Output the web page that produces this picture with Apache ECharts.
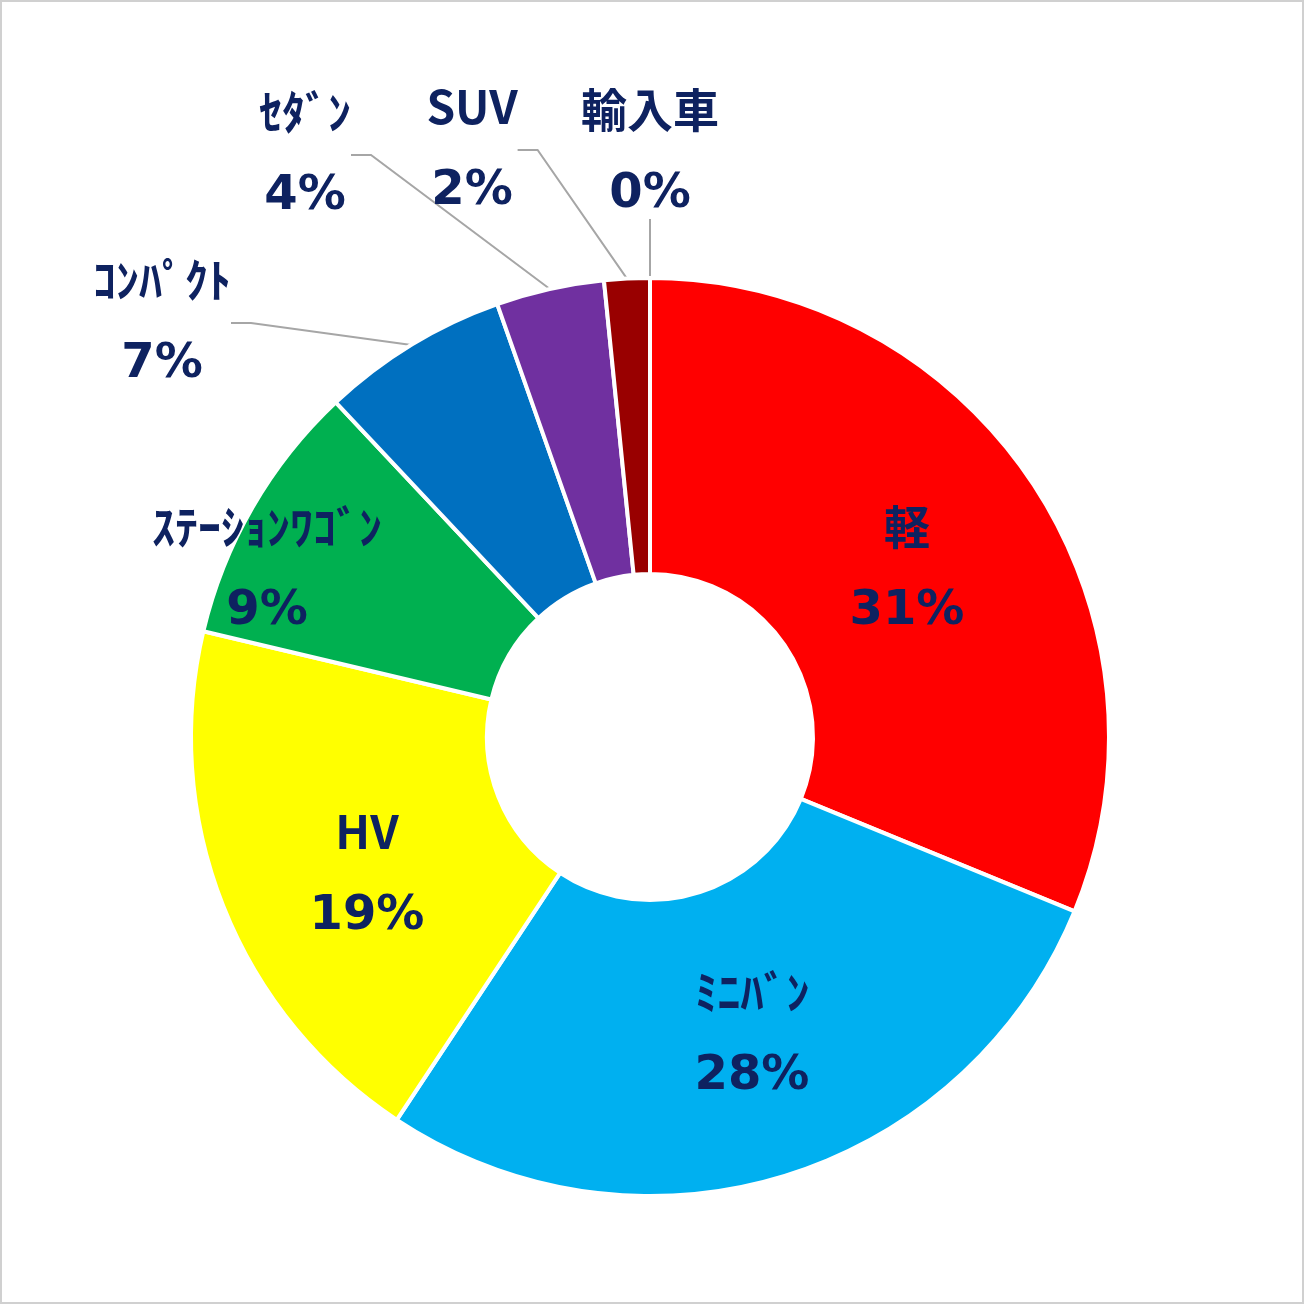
<!DOCTYPE html>
<html><head><meta charset="utf-8">
<script src="https://cdn.jsdelivr.net/npm/echarts@6/dist/echarts.min.js"></script>
<style>html,body{margin:0;padding:0;background:#fff}#c{width:1304px;height:1304px;box-sizing:border-box;border:2px solid #d0d0d0}</style>
</head><body><div id="c"></div>
<script>
var chart = echarts.init(document.getElementById('c'));
// 車種別構成比
var names = ['軽', 'ﾐﾆﾊﾞﾝ', 'HV', 'ｽﾃｰｼｮﾝﾜｺﾞﾝ', 'ｺﾝﾊﾟｸﾄ', 'ｾﾀﾞﾝ', 'SUV', '輸入車'];
var values = [31.2, 28.1, 19.4, 9.3, 6.6, 3.8, 1.6, 0.0];
var pctLabels = ['31%', '28%', '19%', '9%', '7%', '4%', '2%', '0%'];
var colors = ['#ff0000', '#00b0f0', '#ffff00', '#00b050', '#0070c0', '#7030a0', '#990000', '#c00000'];

// label centres (px) per slice
var labelPos = [[905, 565], [750, 1030], [365, 870], [265, 565], [160, 318], [303, 150], [470, 145], [648, 148]];
var withLine = [false, false, false, false, true, true, true, true];

var data = names.map(function (n, i) {
  return {
    name: n, value: values[i],
    itemStyle: { color: colors[i] },
    label: { position: withLine[i] ? 'outside' : 'inside' },
    labelLine: { show: withLine[i] }
  };
});

chart.setOption({
  animation: false,
  series: [{
    type: 'pie',
    center: [648, 735],
    radius: [163, 459],
    startAngle: 90,
    clockwise: true,
    minAngle: 0,
    avoidLabelOverlap: false,
    itemStyle: { borderColor: '#fff', borderWidth: 4 },
    label: {
      show: true,
      formatter: function (p) { return '{n|' + p.name + '}\n{p|' + pctLabels[p.dataIndex] + '}'; },
      rich: {
        n: { fontFamily: 'Noto Sans CJK JP', fontWeight: 'bold', fontSize: 46, color: '#0e2260', lineHeight: 90, align: 'center' },
        p: { fontFamily: 'Verdana, DejaVu Sans', fontWeight: 'bold', fontSize: 48, color: '#0e2260', lineHeight: 80, align: 'center' }
      }
    },
    labelLine: { lineStyle: { color: '#a6a6a6', width: 2 }, length: 20, length2: 20 },
    labelLayout: function (p) {
      var pos = labelPos[p.dataIndex];
      return { x: pos[0], y: pos[1], align: 'center', verticalAlign: 'middle' };
    },
    data: data
  }]
});
</script></body></html>
